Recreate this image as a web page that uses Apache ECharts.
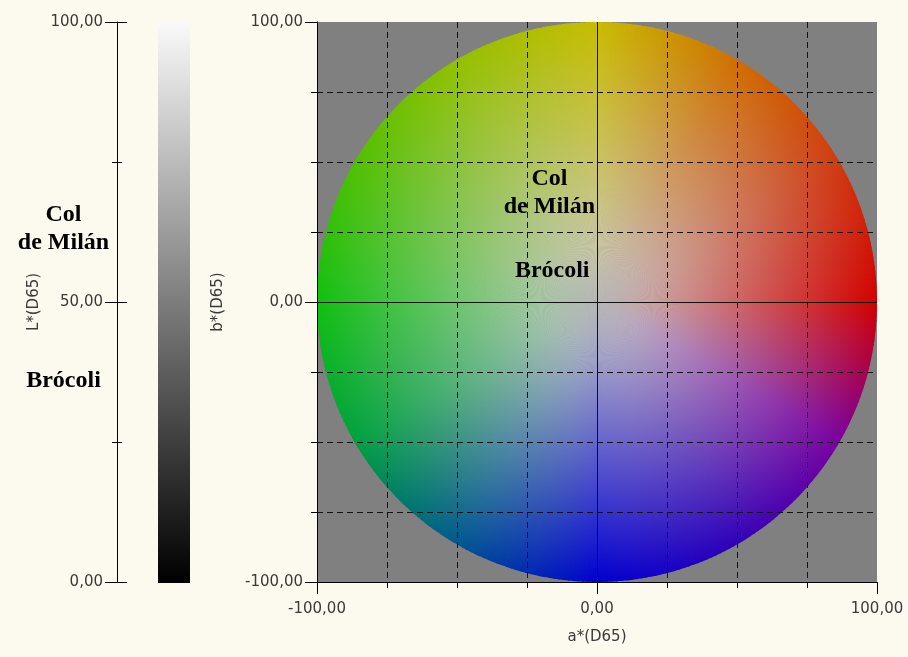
<!DOCTYPE html>
<html>
<head>
<meta charset="utf-8">
<script src="https://cdn.jsdelivr.net/npm/echarts@6/dist/echarts.min.js"></script>
<style>
  html, body { margin: 0; padding: 0; background: #fcf9ee; }
  #chart { width: 908px; height: 657px; }
</style>
</head>
<body>
<div id="chart"></div>
<script>
// samples (CIELAB, D65)
const sampleNames = ['Col\nde Milán', 'Brócoli']
const lValues = [63, 36]
const aValues = [-17, -16]
const bValues = [39, 11]

// axis ranges
const lRange = [0, 100]
const abRange = [-100, 100]

// colour wheel: edge colour every 30 degrees, counter-clockwise from +a*
const hueAngles = [0, 30, 60, 90, 120, 150, 180, 210, 240, 270, 300, 330, 360]
const hueColors = ['#d20000', '#d03a10', '#d06e00', '#c8bc00', '#92c000', '#50c000', '#10c010',
  '#00a040', '#005890', '#0000d0', '#3000b8', '#7800a0', '#d20000']
const wheelCenter = '#cacaca'

const fmt = v => v.toFixed(2).replace('.', ',')
const labelFont = { fontFamily: 'DejaVu Sans', fontSize: 15, color: '#3a3a3a' }
const sampleFont = {
  fontFamily: 'Liberation Serif', fontWeight: 'bold', fontSize: 24, lineHeight: 28,
  color: '#000', textBorderWidth: 0, textBorderColor: 'transparent'
}

function hex2rgb (h) {
  return [1, 3, 5].map(i => parseInt(h.substr(i, 2), 16))
}
function hueAt (deg) {
  let i = 0
  while (i < hueAngles.length - 2 && deg > hueAngles[i + 1]) i++
  const t = (deg - hueAngles[i]) / (hueAngles[i + 1] - hueAngles[i])
  const c0 = hex2rgb(hueColors[i])
  const c1 = hex2rgb(hueColors[i + 1])
  const c = c0.map((v, k) => Math.round(v + (c1[k] - v) * t))
  return 'rgb(' + c.join(',') + ')'
}

function renderWheel (params, api) {
  const c = api.coord([api.value(0), api.value(1)])
  const r = api.size([api.value(2), 0])[0]
  const children = []
  for (let d = 0; d < 360; d++) {
    children.push({
      type: 'sector',
      shape: {
        cx: c[0], cy: c[1], r0: 0, r: r,
        startAngle: -(d + 1.3) * Math.PI / 180,
        endAngle: -d * Math.PI / 180,
        clockwise: true
      },
      style: {
        fill: {
          type: 'radial', x: c[0], y: c[1], r: r, global: true,
          colorStops: [{ offset: 0, color: wheelCenter }, { offset: 1, color: hueAt(d + 0.5) }]
        }
      },
      silent: true
    })
  }
  return { type: 'group', children: children }
}

const chart = echarts.init(document.getElementById('chart'))

const option = {
  backgroundColor: '#fcf9ee',
  animation: false,
  grid: [
    { left: 117, top: 22, width: 30, height: 560 },
    { left: 317, top: 22, width: 560, height: 560, show: true, backgroundColor: '#808080', borderWidth: 0, z: 0 },
    { left: 10, top: 22, width: 107, height: 560 }
  ],
  xAxis: [
    { gridIndex: 0, type: 'value', show: false, min: 0, max: 1 },
    {
      gridIndex: 1, type: 'value', min: abRange[0], max: abRange[1], interval: 100, z: 10,
      name: 'a*(D65)', nameLocation: 'middle', nameGap: 48, nameTextStyle: labelFont,
      axisLine: { onZero: false, lineStyle: { color: '#000', width: 1 } },
      axisTick: { length: 12, lineStyle: { color: '#000' } },
      minorTick: { show: true, splitNumber: 4, length: 6, lineStyle: { color: '#000' } },
      axisLabel: Object.assign({ margin: 20, formatter: fmt }, labelFont),
      splitLine: { show: true, showMinLine: false, showMaxLine: false, lineStyle: { color: '#111', width: 1 } },
      minorSplitLine: { show: true, lineStyle: { color: '#111', width: 1, type: [6, 4] } }
    },
    { gridIndex: 2, type: 'value', show: false, min: 0, max: 1 }
  ],
  yAxis: [
    {
      gridIndex: 0, type: 'value', min: lRange[0], max: lRange[1], interval: 50, position: 'left',
      name: 'L*(D65)', nameLocation: 'middle', nameGap: 75, nameTextStyle: labelFont,
      axisLine: { show: true, lineStyle: { color: '#000', width: 1 } },
      axisTick: { show: true, length: 12, lineStyle: { color: '#000' } },
      minorTick: { show: true, splitNumber: 2, length: 5, lineStyle: { color: '#000' } },
      axisLabel: Object.assign({ margin: 14, formatter: fmt }, labelFont),
      splitLine: { show: false }
    },
    {
      gridIndex: 0, type: 'value', min: lRange[0], max: lRange[1], interval: 50, position: 'left',
      axisLine: { show: false },
      axisTick: { show: true, inside: true, length: 10, lineStyle: { color: '#000' } },
      minorTick: { show: true, splitNumber: 2, length: 5, lineStyle: { color: '#000' } },
      axisLabel: { show: false },
      splitLine: { show: false }
    },
    {
      gridIndex: 1, type: 'value', min: abRange[0], max: abRange[1], interval: 100, z: 10,
      name: 'b*(D65)', nameLocation: 'middle', nameGap: 91, nameTextStyle: labelFont,
      axisLine: { onZero: false, lineStyle: { color: '#000', width: 1 } },
      axisTick: { length: 12, lineStyle: { color: '#000' } },
      minorTick: { show: true, splitNumber: 4, length: 6, lineStyle: { color: '#000' } },
      axisLabel: Object.assign({ margin: 14, formatter: fmt }, labelFont),
      splitLine: { show: true, showMinLine: false, showMaxLine: false, lineStyle: { color: '#111', width: 1 } },
      minorSplitLine: { show: true, lineStyle: { color: '#111', width: 1, type: [6, 4] } }
    },
    { gridIndex: 2, type: 'value', show: false, min: lRange[0], max: lRange[1] }
  ],
  graphic: [{
    type: 'rect',
    shape: { x: 158, y: 21, width: 32, height: 562 },
    style: {
      fill: {
        type: 'linear', x: 0, y: 0, x2: 0, y2: 1,
        colorStops: [{ offset: 0, color: '#fafafa' }, { offset: 1, color: '#000' }]
      }
    },
    silent: true
  }],
  series: [
    {
      type: 'custom',
      xAxisIndex: 1,
      yAxisIndex: 2,
      z: 2,
      silent: true,
      renderItem: renderWheel,
      data: [[0, 0, abRange[1]]]
    },
    {
      type: 'scatter',
      xAxisIndex: 1,
      yAxisIndex: 2,
      z: 20,
      symbolSize: 0,
      silent: true,
      itemStyle: { opacity: 1 },
      data: sampleNames.map((n, i) => ({ name: n, value: [aValues[i], bValues[i]] })),
      label: Object.assign({ show: true, position: 'inside', formatter: '{b}' }, sampleFont)
    },
    {
      type: 'scatter',
      xAxisIndex: 2,
      yAxisIndex: 3,
      z: 20,
      symbolSize: 0,
      silent: true,
      itemStyle: { opacity: 1 },
      data: sampleNames.map((n, i) => ({ name: n, value: [0.5, lValues[i]] })),
      label: Object.assign({ show: true, position: 'inside', formatter: '{b}' }, sampleFont)
    }
  ]
}

chart.setOption(option)
</script>
</body>
</html>
